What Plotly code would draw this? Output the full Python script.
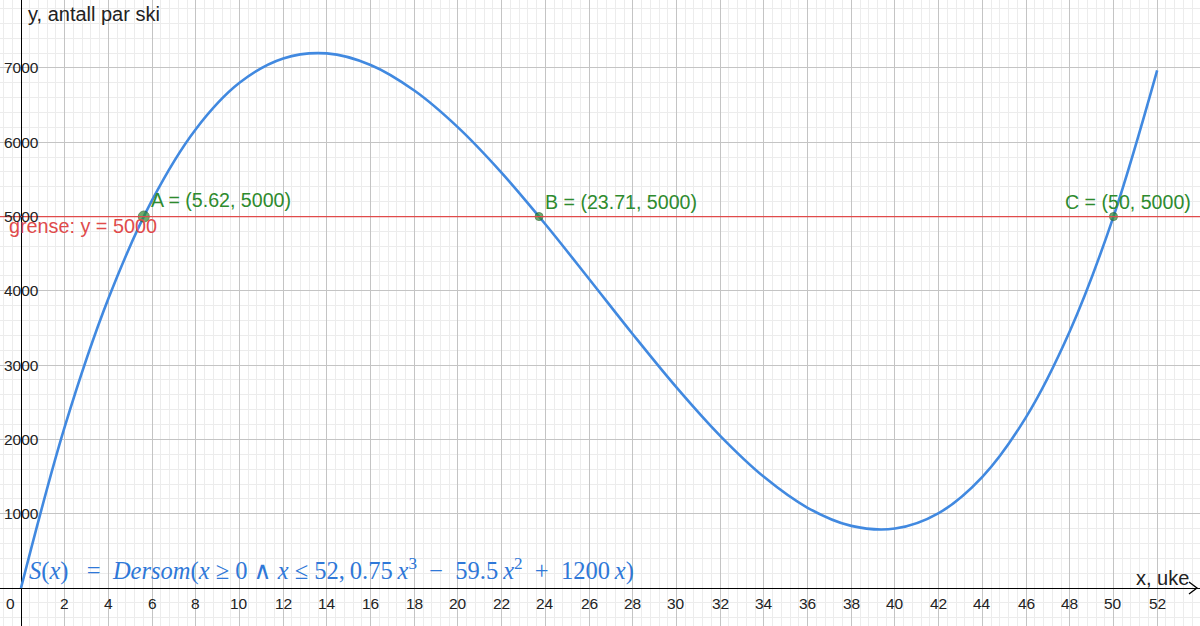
import plotly.graph_objects as go

# Data
weeks = [0, 2, 4, 6, 8, 10, 12, 14, 16, 18, 20, 22, 24, 26, 28, 30, 32, 34, 36, 38, 40, 42, 44, 46, 48, 50, 52]
skis = [0, 2168, 3896, 5220, 6176, 6800, 7128, 7196, 7040, 6696, 6200, 5588, 4896, 4160, 3416, 2700, 2048,
        1496, 1080, 836, 800, 1008, 1496, 2300, 3456, 5000, 6968]
limit_y = 5000
point_names = ["A", "B", "C"]
point_x = [5.62, 23.71, 50]
point_y = [5000, 5000, 5000]
point_labels = ["A = (5.62, 5000)", "B = (23.71, 5000)", "C = (50, 5000)"]
x_ticks = list(range(2, 53, 2))
y_ticks = [1000, 2000, 3000, 4000, 5000, 6000, 7000]

W, H = 1200, 626
X0, X1 = -0.961, 53.96
Y0, Y1 = -511.5, 7915

CURVE = "#4189e0"
RED = "#e04b4b"
GREEN = "#2e8b2e"
FONT = "Liberation Sans, Arial, sans-serif"

fig = go.Figure()
fig.add_trace(go.Scatter(x=weeks, y=skis, mode="lines", line=dict(color=CURVE, width=2.6, shape="spline"),
                         hoverinfo="skip", showlegend=False))
fig.add_hline(y=limit_y, line=dict(color=RED, width=1.2), layer="above")
fig.add_trace(go.Scatter(x=point_x, y=point_y, mode="markers",
                         marker=dict(color=GREEN, size=[11, 8, 8], line=dict(color="#1f5a1f", width=1)),
                         hoverinfo="skip", showlegend=False))

ann = []
shifts = [(5, 17, "left"), (4, 15, "left"), (-50, 15, "left")]
for px, py, lab, (dx, dy, xa) in zip(point_x, point_y, point_labels, shifts):
    ann.append(dict(x=px, y=py, text=lab, showarrow=False, xanchor=xa, yanchor="middle", xshift=dx, yshift=dy,
                    font=dict(family=FONT, size=19.6, color=GREEN)))
ann.append(dict(xref="paper", x=7 / W, y=limit_y, text="grense: y = 5000", showarrow=False, xanchor="left",
                yanchor="middle", yshift=-9, font=dict(family=FONT, size=19.8, color=RED)))
ann.append(dict(x=0, yref="paper", y=1 - 14 / H, text="y, antall par ski", showarrow=False, xanchor="left",
                yanchor="middle", xshift=5, font=dict(family=FONT, size=20, color="#222")))
ann.append(dict(xref="paper", x=1191 / W, y=0, text="x, uke", showarrow=False, xanchor="right",
                yanchor="middle", yshift=10, font=dict(family=FONT, size=20, color="#222")))
for t in x_ticks:
    ann.append(dict(x=t, y=0, text=str(t), showarrow=False, xanchor="center", yanchor="middle", yshift=-15,
                    font=dict(family=FONT, size=15.5, color="#222")))
ann.append(dict(xref="paper", x=10 / W, y=0, text="0", showarrow=False, xanchor="center", yanchor="middle",
                yshift=-15, font=dict(family=FONT, size=15.5, color="#222")))
for t in y_ticks:
    ann.append(dict(xref="paper", x=2 / W, y=t, text=str(t), showarrow=False, xanchor="left", yanchor="middle",
                    font=dict(family=FONT, size=15.5, color="#222")))
SP = "\u2002"  # en space
QS = "\u2005"  # four-per-em space
TS = "\u2009"  # thin space
formula = (f"<i>S</i>(<i>x</i>){SP}{QS}={SP}<i>Dersom</i>(<i>x</i>{QS}≥{QS}0{QS}∧{QS}<i>x</i>{QS}≤{QS}52,{TS}"
           f"0.75{TS}<i>x</i><sup>3</sup>{SP}−{SP}59.5{TS}<i>x</i><sup>2</sup>{SP}+{SP}1200{TS}<i>x</i>)")
ann.append(dict(x=0, y=0, text=formula, showarrow=False, xanchor="left", yanchor="middle", xshift=6, yshift=19,
                font=dict(family="Liberation Serif, DejaVu Serif, serif", size=24.5, color="#2f78d8")))


def px_to_paper(px, py):
    return px / W, 1 - py / H


def chevron(points):
    pts = [px_to_paper(a, b) for a, b in points]
    path = "M {:.5f} {:.5f} L {:.5f} {:.5f} L {:.5f} {:.5f}".format(*[v for p in pts for v in p])
    return dict(type="path", xref="paper", yref="paper", path=path, line=dict(color="black", width=1.3),
                layer="above")


shapes = [
    chevron([(15, 12), (21, 4), (27, 12)]),
    chevron([(1189, 582), (1197, 588), (1189, 594)]),
]

fig.update_layout(
    width=W, height=H, margin=dict(l=0, r=0, t=0, b=0),
    paper_bgcolor="white", plot_bgcolor="white",
    xaxis=dict(range=[X0, X1], dtick=2, tick0=0, showticklabels=False, gridcolor="#c4c4c4", gridwidth=1,
               minor=dict(dtick=0.4, tick0=0, gridcolor="#ececec", gridwidth=1, showgrid=True),
               zeroline=True, zerolinecolor="black", zerolinewidth=1.2, showline=False, fixedrange=True),
    yaxis=dict(range=[Y0, Y1], dtick=1000, tick0=0, showticklabels=False, gridcolor="#c4c4c4", gridwidth=1,
               minor=dict(dtick=200, tick0=0, gridcolor="#ececec", gridwidth=1, showgrid=True),
               zeroline=True, zerolinecolor="black", zerolinewidth=1.2, showline=False, fixedrange=True),
    annotations=ann, shapes=shapes, showlegend=False,
)

fig.write_html("out.html")
